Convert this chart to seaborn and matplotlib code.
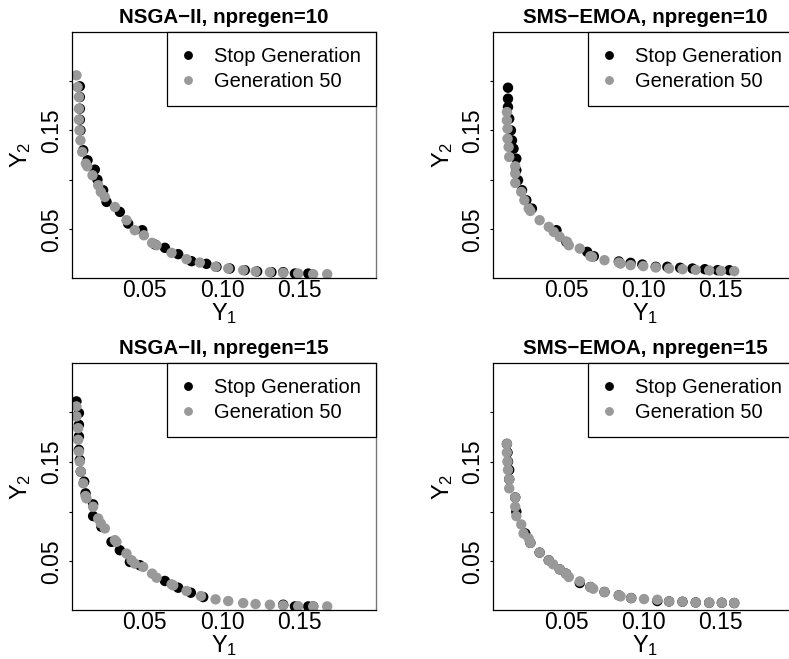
import matplotlib
matplotlib.use("Agg")
import matplotlib.pyplot as plt
import seaborn as sns
import pandas as pd

# ---- Pareto front approximations (Y1, Y2) ----
# NSGA-II, npregen=10
nsga10_stop_y1 = [0.0079, 0.0079, 0.0079, 0.0079, 0.0083, 0.0101, 0.0129, 0.0176, 0.0193, 0.0230,
                  0.0252, 0.0338, 0.0392, 0.0483, 0.0566, 0.0630, 0.0716, 0.0802, 0.0899, 0.0964,
                  0.1050, 0.1147, 0.1227, 0.1320, 0.1396, 0.1472, 0.1558]
nsga10_stop_y2 = [0.1944, 0.1836, 0.1718, 0.1607, 0.1499, 0.1298, 0.1197, 0.1102, 0.1001, 0.0894,
                  0.0776, 0.0675, 0.0557, 0.0490, 0.0345, 0.0312, 0.0248, 0.0177, 0.0150, 0.0120,
                  0.0103, 0.0086, 0.0073, 0.0066, 0.0066, 0.0052, 0.0052]
nsga10_g50_y1 = [0.0057, 0.0064, 0.0073, 0.0073, 0.0073, 0.0077, 0.0083, 0.0094, 0.0118, 0.0127,
                 0.0161, 0.0198, 0.0215, 0.0241, 0.0306, 0.0381, 0.0435, 0.0494, 0.0547, 0.0576,
                 0.0673, 0.0770, 0.0856, 0.0958, 0.1040, 0.1137, 0.1217, 0.1310, 0.1396, 0.1493,
                 0.1590, 0.1681]
nsga10_g50_y2 = [0.2055, 0.1937, 0.1836, 0.1718, 0.1607, 0.1499, 0.1398, 0.1281, 0.1163, 0.1136,
                 0.1045, 0.0944, 0.0877, 0.0826, 0.0725, 0.0591, 0.0490, 0.0439, 0.0362, 0.0338,
                 0.0261, 0.0197, 0.0163, 0.0120, 0.0103, 0.0086, 0.0073, 0.0066, 0.0059, 0.0052,
                 0.0046, 0.0046]

# SMS-EMOA, npregen=10
sms10_stop_y1 = [0.0124, 0.0124, 0.0124, 0.0132, 0.0143, 0.0150, 0.0160, 0.0178, 0.0178, 0.0189,
                 0.0215, 0.0243, 0.0279, 0.0438, 0.0502, 0.0637, 0.0680, 0.0842, 0.0918, 0.0994,
                 0.1081, 0.1156, 0.1239, 0.1319, 0.1399, 0.1481, 0.1557]
sms10_stop_y2 = [0.1930, 0.1819, 0.1735, 0.1617, 0.1499, 0.1398, 0.1314, 0.1213, 0.1096, 0.0995,
                 0.0894, 0.0793, 0.0709, 0.0490, 0.0372, 0.0271, 0.0227, 0.0174, 0.0160, 0.0143,
                 0.0120, 0.0120, 0.0110, 0.0103, 0.0096, 0.0086, 0.0086]
sms10_g50_y1 = [0.0117, 0.0117, 0.0121, 0.0121, 0.0128, 0.0132, 0.0171, 0.0171, 0.0171, 0.0210,
                0.0230, 0.0258, 0.0269, 0.0329, 0.0388, 0.0420, 0.0459, 0.0507, 0.0518, 0.0589,
                0.0658, 0.0669, 0.0749, 0.0842, 0.0853, 0.0918, 0.1000, 0.1081, 0.1167, 0.1254,
                0.1340, 0.1427, 0.1503, 0.1589]
sms10_g50_y2 = [0.1684, 0.1600, 0.1516, 0.1415, 0.1331, 0.1230, 0.1136, 0.1062, 0.0968, 0.0877,
                0.0793, 0.0709, 0.0685, 0.0591, 0.0524, 0.0473, 0.0423, 0.0372, 0.0338, 0.0305,
                0.0227, 0.0221, 0.0187, 0.0163, 0.0153, 0.0137, 0.0127, 0.0113, 0.0103, 0.0096,
                0.0089, 0.0083, 0.0079, 0.0076]

# NSGA-II, npregen=15
nsga15_stop_y1 = [0.0057, 0.0073, 0.0073, 0.0073, 0.0073, 0.0079, 0.0085, 0.0107, 0.0116, 0.0165,
                  0.0165, 0.0219, 0.0284, 0.0338, 0.0403, 0.0468, 0.0630, 0.0716, 0.0798, 0.0878,
                  0.1396, 0.1472, 0.1558, 0.1590]
nsga15_stop_y2 = [0.2107, 0.1990, 0.1872, 0.1754, 0.1620, 0.1519, 0.1401, 0.1300, 0.1183, 0.1072,
                  0.0954, 0.0846, 0.0695, 0.0611, 0.0493, 0.0460, 0.0302, 0.0234, 0.0184, 0.0140,
                  0.0063, 0.0046, 0.0046, 0.0046]
nsga15_g50_y1 = [0.0057, 0.0057, 0.0068, 0.0068, 0.0073, 0.0079, 0.0085, 0.0101, 0.0116, 0.0122,
                 0.0165, 0.0198, 0.0215, 0.0241, 0.0306, 0.0316, 0.0381, 0.0414, 0.0435, 0.0489,
                 0.0547, 0.0576, 0.0673, 0.0684, 0.0770, 0.0863, 0.0958, 0.1040, 0.1137, 0.1217,
                 0.1310, 0.1396, 0.1493, 0.1590, 0.1681]
nsga15_g50_y2 = [0.2057, 0.1956, 0.1838, 0.1721, 0.1603, 0.1502, 0.1401, 0.1284, 0.1156, 0.1132,
                 0.1048, 0.0930, 0.0880, 0.0830, 0.0712, 0.0695, 0.0577, 0.0510, 0.0476, 0.0443,
                 0.0376, 0.0335, 0.0268, 0.0258, 0.0201, 0.0150, 0.0117, 0.0100, 0.0080, 0.0070,
                 0.0063, 0.0056, 0.0049, 0.0046, 0.0046]

# SMS-EMOA, npregen=15
sms15_stop_y1 = [0.0117, 0.0121, 0.0124, 0.0132, 0.0132, 0.0171, 0.0178, 0.0236, 0.0269, 0.0329,
                 0.0388, 0.0459, 0.0500, 0.0589, 0.0658, 0.0749, 0.0842, 0.0922, 0.1091, 0.1167,
                 0.1254, 0.1340, 0.1427, 0.1509, 0.1589]
sms15_stop_y2 = [0.1680, 0.1593, 0.1502, 0.1418, 0.1324, 0.1142, 0.0998, 0.0779, 0.0685, 0.0587,
                 0.0510, 0.0419, 0.0376, 0.0281, 0.0241, 0.0191, 0.0157, 0.0130, 0.0100, 0.0096,
                 0.0093, 0.0086, 0.0083, 0.0083, 0.0080]
sms15_g50_y1 = [0.0117, 0.0117, 0.0121, 0.0124, 0.0132, 0.0132, 0.0171, 0.0171, 0.0178, 0.0210,
                0.0225, 0.0258, 0.0269, 0.0329, 0.0388, 0.0416, 0.0459, 0.0500, 0.0518, 0.0589,
                0.0658, 0.0676, 0.0749, 0.0842, 0.0853, 0.0922, 0.1005, 0.1091, 0.1167, 0.1254,
                0.1340, 0.1427, 0.1509, 0.1589]
sms15_g50_y2 = [0.1680, 0.1593, 0.1502, 0.1418, 0.1324, 0.1233, 0.1142, 0.1048, 0.0954, 0.0870,
                0.0779, 0.0729, 0.0685, 0.0587, 0.0510, 0.0470, 0.0419, 0.0376, 0.0342, 0.0298,
                0.0241, 0.0224, 0.0191, 0.0157, 0.0147, 0.0130, 0.0120, 0.0113, 0.0096, 0.0093,
                0.0086, 0.0083, 0.0083, 0.0080]

titles = ["NSGA\u2212II, npregen=10", "SMS\u2212EMOA, npregen=10",
          "NSGA\u2212II, npregen=15", "SMS\u2212EMOA, npregen=15"]
series_labels = ["Stop Generation", "Generation 50"]
x_ticks = [0.05, 0.10, 0.15]
x_tick_labels = ["0.05", "0.10", "0.15"]
y_ticks = [0.05, 0.10, 0.15, 0.20]
y_tick_labels = ["0.05", "", "0.15", ""]

panels = [
    (nsga10_stop_y1, nsga10_stop_y2, nsga10_g50_y1, nsga10_g50_y2),
    (sms10_stop_y1, sms10_stop_y2, sms10_g50_y1, sms10_g50_y2),
    (nsga15_stop_y1, nsga15_stop_y2, nsga15_g50_y1, nsga15_g50_y2),
    (sms15_stop_y1, sms15_stop_y2, sms15_g50_y1, sms15_g50_y2),
]

sns.set_style("white")
plt.rcParams["font.family"] = ["Liberation Sans", "DejaVu Sans"]
plt.rcParams["mathtext.fontset"] = "custom"
plt.rcParams["mathtext.rm"] = "Liberation Sans"
plt.rcParams["mathtext.it"] = "Liberation Sans"
for key in ["text.color", "axes.labelcolor", "xtick.color", "ytick.color"]:
    plt.rcParams[key] = "black"

W, H = 789, 659
fig = plt.figure(figsize=(W / 100, H / 100), dpi=100)

# axes boxes in pixels: (left, top, right, bottom)
boxes = [(71.5, 32.3, 376.0, 277.7), (492.7, 32.3, 797.2, 277.7),
         (71.5, 363.3, 376.0, 610.0), (492.7, 363.3, 797.2, 610.0)]

colors = {"Stop Generation": "#000000", "Generation 50": "#999999"}

for (l, t, r, b), title, (sx, sy, gx, gy) in zip(boxes, titles, panels):
    ax = fig.add_axes([l / W, (H - b) / H, (r - l) / W, (b - t) / H])
    df = pd.concat([
        pd.DataFrame({"Y1": sx, "Y2": sy, "set": series_labels[0]}),
        pd.DataFrame({"Y1": gx, "Y2": gy, "set": series_labels[1]}),
    ], ignore_index=True)
    sns.scatterplot(data=df, x="Y1", y="Y2", hue="set", palette=colors,
                    hue_order=series_labels, s=56, linewidth=0, ax=ax, legend=True)
    ax.set_xlim(0.0025, 0.1997)
    ax.set_ylim(0.0010, 0.2490)

    ax.set_xticks(x_ticks)
    ax.set_xticklabels(x_tick_labels, fontsize=16.5)
    ax.set_yticks(y_ticks)
    ax.set_yticklabels(y_tick_labels, fontsize=16.5, rotation=90, va="center")
    ax.tick_params(axis="x", length=0, pad=1.0)
    ax.tick_params(axis="y", length=2.5, width=0.8, color="black", pad=3.5, left=True)

    for side in ["left", "bottom", "top"]:
        ax.spines[side].set_visible(True)
        ax.spines[side].set_color("black")
        ax.spines[side].set_linewidth(0.9)
    ax.spines["right"].set_visible(True)
    ax.spines["right"].set_color("#777777")
    ax.spines["right"].set_linewidth(1.0)

    ax.set_xlabel(r"$\mathregular{Y_1}$", fontsize=17)
    ax.set_ylabel(r"$\mathregular{Y_2}$", fontsize=17)
    ax.xaxis.set_label_coords(0.5, -0.095)
    ax.yaxis.set_label_coords(-0.125, 0.5)
    ax.set_title(title, fontsize=14.8, fontweight="bold", pad=7)

    leg = ax.legend(loc="upper right", bbox_to_anchor=(1.0, 1.0), borderaxespad=0,
                    fontsize=14.5, frameon=True, fancybox=False, framealpha=1,
                    borderpad=0.75, handlelength=0.6, handletextpad=1.0,
                    labelspacing=0.27, markerscale=0.85, title=None)
    leg.get_frame().set_edgecolor("black")
    leg.get_frame().set_linewidth(0.9)

fig.savefig("out.png", dpi=100)
